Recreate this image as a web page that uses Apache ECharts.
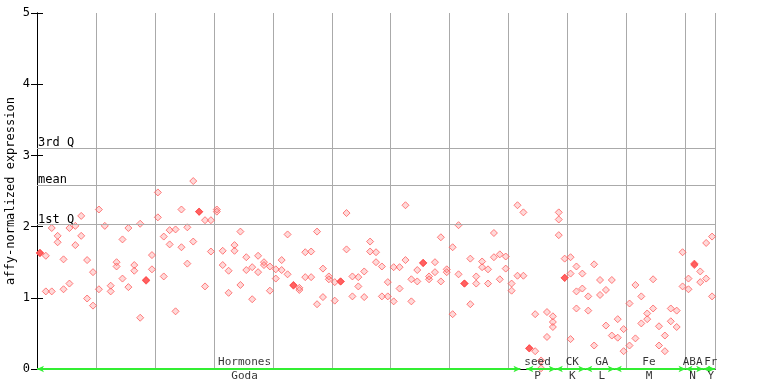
<!DOCTYPE html>
<html><head><meta charset="utf-8">
<script src="https://cdn.jsdelivr.net/npm/echarts@6/dist/echarts.min.js"></script>
<style>html,body{margin:0;padding:0;background:#fff}#c{width:768px;height:384px}</style>
</head><body><div id="c"></div>
<script>
// expression values per sample (each sample column holds its replicate values)
const expression = [
[1.63,1.63],[1.59,1.09],[1.98,1.09],[1.87,1.78],[1.54,1.12],[1.98,1.20],[2.01,1.74],[2.15,1.87],[1.53,0.99],[1.36,0.89],
[2.24,1.12],[2.01],[1.17,1.09],[1.50,1.44],[1.82,1.27],[1.98,1.15],[1.46,1.38],[2.04,0.72],[1.25,1.24],[1.60,1.40],
[2.48,2.13],[1.86,1.30],[1.95,1.75],[1.96,0.81],[2.24,1.71],[1.99,1.48],[2.64,1.79],[2.21,2.21],[2.09,1.16],[2.09,1.65],
[2.24,2.21],[1.66,1.46],[1.38,1.07],[1.74,1.66],[1.93,1.18],[1.57,1.39],[1.43,0.98],[1.59,1.36],[1.50,1.46],[1.44,1.10],
[1.40,1.27],[1.53,1.39],[1.89,1.33],[1.18,1.17],[1.14,1.11],[1.64,1.29],[1.65,1.29],[1.93,0.91],[1.41,1.01],[1.30,1.26],
[1.22,0.96],[1.23,1.23],[2.19,1.68],[1.30,1.02],[1.29,1.16],[1.37,1.01],[1.79,1.65],[1.64,1.50],[1.44,1.02],[1.22,1.02],
[1.43,0.95],[1.43,1.13],[2.30,1.53],[1.26,0.95],[1.39,1.23],[1.49,1.49],[1.30,1.26],[1.50,1.36],[1.85,1.23],[1.40,1.36],
[1.71,0.77],[2.02,1.33],[1.20,1.20],[1.55,0.91],[1.30,1.20],[1.51,1.43],[1.40,1.20],[1.91,1.57],[1.61,1.26],[1.58,1.41],
[1.20,1.10],[2.30,1.31],[2.20,1.31],[0.29,0.29],[0.77,0.25],[0.12,0.01],[0.80,0.45],[0.74,0.66,0.59],[2.20,2.10,1.88],[1.55,1.28,1.28],
[1.57,1.34,0.42],[1.44,1.09,0.85],[1.34,1.13],[1.02,0.82],[1.47,0.33],[1.25,1.04],[1.11,0.61],[1.25,0.47],[0.70,0.44],[0.56,0.25],
[0.92,0.33],[1.18,0.43],[1.02,0.64],[0.78,0.70],[1.26,0.85],[0.60,0.33],[0.47,0.25],[0.85,0.67],[0.82,0.59],[1.64,1.16],
[1.27,1.12],[1.48,1.46],[1.37,1.22],[1.77,1.27],[1.86,1.02]
];
const groupNames = ['Hormones','seed','CK','GA','Fe','ABA','Fr'];
const groupCodes = ['Goda','P','K','L','M','N','Y'];
const groupStart = [0,83,88,93,98,110,113];
const groupEnd = [82,88,93,98,110,113,115];
const groupLabelAt = [35.2,84.9,90.8,95.8,103.8,111.2,114.3];
const quartileNames = ['3rd Q','mean','1st Q'];
const quartileValues = [3.10,2.58,2.03];
const yMin = 0, yMax = 5, yStep = 1;

const FONT = 'DejaVu Sans Mono';
const pts = [], dup = [];
expression.forEach((vals, i) => {
  vals.forEach(v => pts.push([i + 0.5, v]));
  for (let a = 0; a < vals.length; a++)
    for (let b = a + 1; b < vals.length; b++)
      if (Math.abs(vals[a] - vals[b]) < 0.025) dup.push([i + 0.5, (vals[a] + vals[b]) / 2]);
});

const chart = echarts.init(document.getElementById('c'), null, {renderer: 'canvas'});
chart.setOption({
  animation: false,
  grid: {left: 37, right: 53, top: 13, bottom: 15, containLabel: false, outerBoundsMode: 'none'},
  xAxis: [
    {type: 'value', min: 0, max: expression.length, interval: 10, position: 'bottom',
     axisLine: {show: true, lineStyle: {color: '#000', width: 1}}, axisTick: {show: false},
     axisLabel: {show: false}, splitLine: {show: true, lineStyle: {color: '#aaaaaa', width: 1}}},
    {type: 'value', min: 0, max: expression.length, position: 'top',
     axisLine: {show: true, lineStyle: {color: '#000', width: 1}}, axisTick: {show: false},
     axisLabel: {show: false}, splitLine: {show: false}}
  ],
  yAxis: [
    {type: 'value', min: yMin, max: yMax, interval: yStep, position: 'left',
     name: 'affy-normalized expression', nameLocation: 'middle', nameGap: 20, nameRotate: 90,
     nameMoveOverlap: false,
     nameTextStyle: {fontFamily: FONT, fontSize: 12, color: '#000'},
     axisLine: {show: true, lineStyle: {color: '#000', width: 1}},
     axisTick: {show: true, inside: true, length: 6, lineStyle: {color: '#000'}},
     axisLabel: {fontFamily: FONT, fontSize: 12, color: '#000', margin: 7},
     splitLine: {show: false}},
    {type: 'value', min: yMin, max: yMax, interval: yStep, position: 'right',
     axisLine: {show: true, lineStyle: {color: '#000', width: 1}},
     axisTick: {show: true, inside: true, length: 6, lineStyle: {color: '#000'}},
     axisLabel: {show: false}, splitLine: {show: false}}
  ],
  series: [
    {type: 'scatter', data: [], silent: true,
     markLine: {silent: true, symbol: 'none', animation: false,
       lineStyle: {color: '#aaaaaa', width: 1, type: 'solid'},
       label: {show: true, position: 'insideStartTop', formatter: '{b}', fontFamily: FONT, fontSize: 12, color: '#000', distance: [1, -1]},
       data: quartileNames.map((n, k) => ({name: n, yAxis: quartileValues[k]}))}},
    {type: 'scatter', data: pts, symbol: 'diamond', symbolSize: 7, silent: true,
     itemStyle: {color: 'rgba(255,120,120,0.35)', borderColor: '#ff5c5c', borderWidth: 1}},
    {type: 'scatter', data: dup, symbol: 'diamond', symbolSize: 8, silent: true,
     itemStyle: {color: '#ff4a4a', borderColor: '#ff4a4a', borderWidth: 0}},
    {type: 'scatter', silent: true, symbolSize: 0, z: 5,
     data: groupNames.map((n, k) => ({name: n, value: [groupLabelAt[k], 0]})),
     label: {show: true, position: 'top', distance: 1, formatter: '{b}', fontFamily: FONT, fontSize: 11, color: '#000'},
     markLine: {silent: true, symbol: ['arrow', 'arrow'], symbolSize: [5, 7], animation: false,
       lineStyle: {color: '#33ee33', width: 2, type: 'solid'}, label: {show: false},
       data: groupNames.map((n, k) => [{coord: [groupStart[k], 0]}, {coord: [groupEnd[k], 0]}])}},
    {type: 'scatter', silent: true, symbolSize: 0, z: 5,
     data: groupCodes.map((n, k) => ({name: n, value: [groupLabelAt[k], 0]})),
     label: {show: true, position: 'bottom', distance: 2, formatter: '{b}', fontFamily: FONT, fontSize: 11, color: '#000'}}
  ]
});
</script></body></html>
